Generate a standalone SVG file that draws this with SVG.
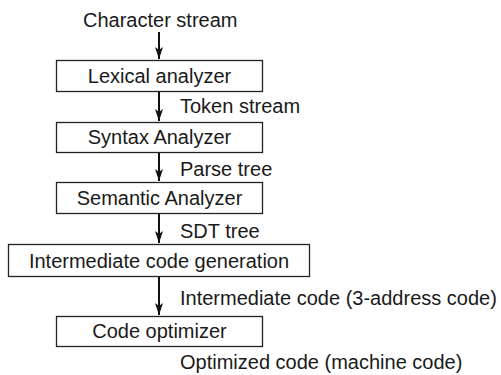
<svg xmlns="http://www.w3.org/2000/svg" width="501" height="375" viewBox="0 0 501 375">
<style>
.box{fill:#fff;stroke:#222;stroke-width:1.3}
.t{font-family:"Liberation Sans",Arial,sans-serif;font-size:20px;fill:#1a1a1a}
.c{text-anchor:middle}
.ln{stroke:#111;stroke-width:2;fill:none}
</style>
<defs>
<marker id="ah" markerUnits="userSpaceOnUse" markerWidth="14" markerHeight="9" refX="12" refY="4" orient="auto" viewBox="0 0 14 8">
<path d="M0,0 L3,4 L0,8 L12,4 Z" fill="#111"/>
</marker>
</defs>
<rect width="501" height="375" fill="#fff"/>
<g id="connectors">
<line class="ln" x1="159" y1="32" x2="159" y2="59" marker-end="url(#ah)"/>
<line class="ln" x1="159" y1="92" x2="159" y2="121" marker-end="url(#ah)"/>
<line class="ln" x1="159" y1="153" x2="159" y2="181" marker-end="url(#ah)"/>
<line class="ln" x1="159" y1="214" x2="159" y2="243" marker-end="url(#ah)"/>
<line class="ln" x1="159" y1="277" x2="159" y2="315" marker-end="url(#ah)"/>
</g>
<g id="labels">
<text class="t" x="83" y="27">Character stream</text>
<text class="t" x="180" y="113">Token stream</text>
<text class="t" x="180" y="176">Parse tree</text>
<text class="t" x="180" y="238">SDT tree</text>
<text class="t" x="180" y="305">Intermediate code (3-address code)</text>
<text class="t" x="180" y="369">Optimized code (machine code)</text>
</g>
<g id="lexical">
<rect class="box" x="56.5" y="60.5" width="206" height="31"/>
<text class="t c" x="159.5" y="83">Lexical analyzer</text>
</g>
<g id="syntax">
<rect class="box" x="56.5" y="122.5" width="206" height="30"/>
<text class="t c" x="159.5" y="144">Syntax Analyzer</text>
</g>
<g id="semantic">
<rect class="box" x="56.5" y="182.5" width="206" height="31"/>
<text class="t c" x="159.5" y="205">Semantic Analyzer</text>
</g>
<g id="intermediate">
<rect class="box" x="8.5" y="244.5" width="301" height="32"/>
<text class="t c" x="159" y="268">Intermediate code generation</text>
</g>
<g id="optimizer">
<rect class="box" x="56.5" y="316.5" width="206" height="30"/>
<text class="t c" x="159.5" y="338">Code optimizer</text>
</g>
</svg>
